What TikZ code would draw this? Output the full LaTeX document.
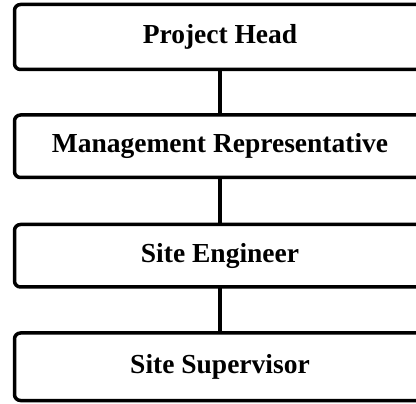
\documentclass[tikz,border=0pt]{standalone}
\usepackage{fontspec}
\setmainfont{Liberation Serif}
\begin{document}
\begin{tikzpicture}[x=1pt,y=1pt,
  box/.style={draw=black, line width=3.5pt, rounded corners=6pt, fill=white,
    minimum width=411pt, inner sep=0pt, outer sep=0pt,
    font=\fontsize{27.5}{30}\selectfont\bfseries},
  link/.style={draw=black, line width=3.5pt}]
\clip (0,0) rectangle (416,-404);
\fill[white] (0,0) rectangle (416,-404);
\node[box, minimum height=65pt] (ph) at (220,-37) {Project Head};
\node[box, minimum height=62.5pt] (mr) at (220,-146.25) {Management Representative};
\node[box, minimum height=62.5pt] (se) at (220,-255.75) {Site Engineer};
\node[box, minimum height=67.5pt] (ss) at (220,-366.75) {Site Supervisor};
\draw[link] (ph.south) -- (mr.north);
\draw[link] (mr.south) -- (se.north);
\draw[link] (se.south) -- (ss.north);
\end{tikzpicture}
\end{document}
